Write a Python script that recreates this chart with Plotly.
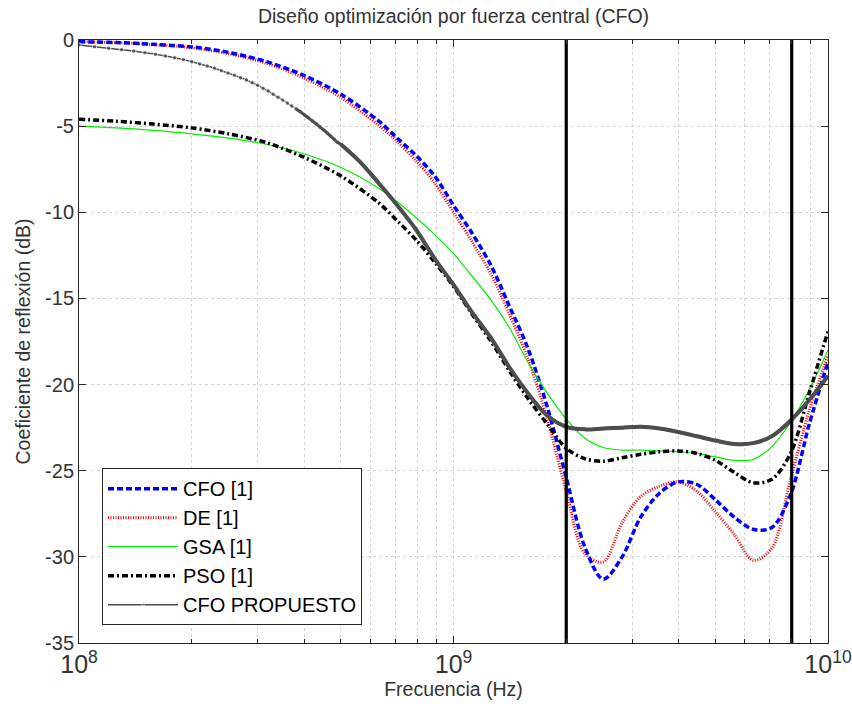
import plotly.graph_objects as go

# ---------------- data ----------------
freq = [1.00e8, 1.26e8, 1.58e8, 2.00e8, 2.51e8, 3.16e8, 3.98e8, 5.01e8, 6.31e8,
        7.08e8, 7.94e8, 8.91e8, 1.00e9, 1.12e9, 1.26e9, 1.41e9, 1.58e9, 1.78e9,
        2.00e9, 2.24e9, 2.51e9, 2.82e9, 3.16e9, 3.55e9, 3.98e9, 4.47e9, 5.01e9,
        5.62e9, 6.31e9, 7.08e9, 7.94e9, 8.91e9, 1.00e10]

cfo_ref = [-0.10, -0.15, -0.25, -0.40, -0.72, -1.25, -2.05, -3.15, -4.7,
           -5.7, -6.7, -7.9, -9.6, -11.2, -13.1, -15.45, -17.9, -21.3,
           -25.4, -29.4, -31.3, -30.0, -27.7, -26.3, -25.65, -25.8, -26.7,
           -27.7, -28.4, -28.3, -26.4, -22.3, -18.7]

de_ref = [-0.10, -0.15, -0.27, -0.45, -0.80, -1.35, -2.2, -3.35, -4.95,
          -5.9, -7.0, -8.3, -10.0, -11.7, -13.6, -15.9, -18.5, -22.0,
          -26.2, -29.8, -30.3, -28.0, -26.5, -25.9, -25.65, -26.2, -27.4,
          -28.7, -30.2, -29.5, -25.5, -21.5, -18.3]

gsa_ref = [-5.0, -5.1, -5.25, -5.45, -5.7, -6.05, -6.6, -7.4, -8.6,
           -9.4, -10.3, -11.3, -12.4, -13.7, -15.1, -16.7, -18.7, -20.5,
           -22.0, -23.1, -23.65, -23.8, -23.8, -23.85, -23.9, -24.0, -24.2,
           -24.4, -24.35, -23.6, -22.2, -20.3, -18.0]

pso_ref = [-4.6, -4.72, -4.88, -5.1, -5.45, -5.95, -6.8, -7.9, -9.45,
           -10.5, -11.6, -12.9, -14.3, -15.9, -17.5, -19.2, -20.8, -22.3,
           -23.7, -24.3, -24.45, -24.25, -24.05, -23.9, -23.85, -24.0, -24.4,
           -25.1, -25.7, -25.5, -24.0, -20.5, -16.9]

# proposed CFO: dense readings (10 MHz markers) on the left, sparser afterwards
freq_prop = [1.0e8, 1.1e8, 1.2e8, 1.3e8, 1.4e8, 1.5e8, 1.6e8, 1.7e8, 1.8e8, 1.9e8,
             2.0e8, 2.1e8, 2.2e8, 2.3e8, 2.4e8, 2.5e8, 2.6e8, 2.7e8, 2.8e8, 2.9e8,
             3.0e8, 3.1e8, 3.2e8, 3.3e8, 3.4e8, 3.5e8, 3.6e8, 3.7e8, 3.8e8, 3.9e8,
             4.0e8, 4.1e8, 4.2e8, 4.3e8, 4.4e8, 4.5e8, 4.6e8, 4.7e8, 4.8e8, 4.9e8,
             5.0e8, 5.62e8, 6.31e8, 7.08e8, 7.94e8, 8.91e8, 1.00e9, 1.12e9, 1.26e9,
             1.41e9, 1.58e9, 1.78e9, 2.00e9, 2.24e9, 2.51e9, 2.82e9, 3.16e9, 3.55e9,
             3.98e9, 4.47e9, 5.01e9, 5.62e9, 6.31e9, 7.08e9, 7.94e9, 8.91e9, 1.00e10]
cfo_prop = [-0.29, -0.39, -0.48, -0.56, -0.64, -0.74, -0.83, -0.93, -1.03, -1.14,
            -1.26, -1.39, -1.51, -1.64, -1.78, -1.92, -2.05, -2.19, -2.32, -2.48,
            -2.63, -2.80, -2.96, -3.15, -3.32, -3.49, -3.66, -3.83, -4.00, -4.17,
            -4.35, -4.52, -4.70, -4.87, -5.05, -5.22, -5.40, -5.58, -5.76, -5.94,
            -6.05, -7.06, -8.3, -9.6, -11.0, -12.7, -14.2, -15.8, -17.3,
            -19.0, -20.5, -21.8, -22.45, -22.6, -22.55, -22.5, -22.45, -22.55,
            -22.75, -23.0, -23.25, -23.45, -23.4, -23.0, -22.1, -20.9, -19.5]

band_edges = [2e9, 8e9]
y_ticks = [-35, -30, -25, -20, -15, -10, -5, 0]
y_ticktext = ["-35", "-30", "-25", "-20", "-15", "-10", "-5", "0"]

# ---------------- figure ----------------
AX = "#262626"
GRID = "#d4d4d4"
TXT = "#333333"
GRAY = "#4d4d4d"
FONT = "Arial, Liberation Sans, sans-serif"

fig = go.Figure()

fig.add_trace(go.Scatter(x=freq, y=de_ref, name="DE [1]", mode="lines",
                         line=dict(color="#ff0000", width=3, dash="1px,1.5px",
                                   shape="spline", smoothing=0.9),
                         legendrank=2))
fig.add_trace(go.Scatter(x=freq, y=cfo_ref, name="CFO [1]", mode="lines",
                         line=dict(color="#0000ff", width=3.5, dash="6px,3px",
                                   shape="spline", smoothing=0.9),
                         legendrank=1))
fig.add_trace(go.Scatter(x=freq, y=gsa_ref, name="GSA [1]", mode="lines",
                         line=dict(color="#00ee00", width=1.2,
                                   shape="spline", smoothing=0.9),
                         legendrank=3))
fig.add_trace(go.Scatter(x=freq, y=pso_ref, name="PSO [1]", mode="lines",
                         line=dict(color="#000000", width=3.5, dash="6px,3px,2px,3px",
                                   shape="spline", smoothing=0.9),
                         legendrank=4))

marker_sizes = [4.5 if f <= 5.0e8 else 0 for f in freq_prop]
fig.add_trace(go.Scatter(x=freq_prop, y=cfo_prop, name="CFO PROPUESTO",
                         mode="lines+markers",
                         line=dict(color=GRAY, width=1.5, shape="spline", smoothing=0.9),
                         marker=dict(color=GRAY, size=marker_sizes, symbol="circle"),
                         legendrank=5))
# merged markers make the curve look thicker where the samples get dense
k1 = freq_prop.index(3.8e8)
fig.add_trace(go.Scatter(x=freq_prop[k1:], y=cfo_prop[k1:], mode="lines",
                         showlegend=False, hoverinfo="skip",
                         line=dict(color=GRAY, width=3, shape="spline", smoothing=0.9)))
k2 = freq_prop.index(5.0e8)
fig.add_trace(go.Scatter(x=freq_prop[k2:], y=cfo_prop[k2:], mode="lines",
                         showlegend=False, hoverinfo="skip",
                         line=dict(color=GRAY, width=4, shape="spline", smoothing=0.9)))

for f in band_edges:
    fig.add_trace(go.Scatter(x=[f, f], y=[0, -35], mode="lines", showlegend=False,
                             line=dict(color="#000000", width=3.2)))

fig.update_layout(
    width=852, height=711,
    margin=dict(l=79, r=24, t=40, b=68),
    paper_bgcolor="white", plot_bgcolor="white",
    font=dict(family=FONT, color=AX, size=20),
    title=dict(text="Diseño optimización por fuerza central (CFO)",
               x=0.5, xref="paper", xanchor="center",
               y=0.987, yref="container", yanchor="top",
               font=dict(size=19.5, color=TXT)),
    showlegend=True,
    legend=dict(x=0.0307, y=0.29, xanchor="left", yanchor="top",
                bgcolor="white", bordercolor=AX, borderwidth=1,
                font=dict(size=20, color="#000000"), itemwidth=70,
                traceorder="normal"),
    annotations=[dict(text="Coeficiente de reflexión (dB)", textangle=-90,
                      xref="paper", yref="paper", x=-0.0761, y=0.5,
                      xanchor="center", yanchor="middle", showarrow=False,
                      font=dict(size=19.5, color=TXT))],
)

fig.update_xaxes(
    type="log", range=[8, 10], dtick=1, tick0=0, exponentformat="power",
    automargin=False,
    showline=True, linecolor=AX, linewidth=1, mirror="ticks",
    ticks="inside", ticklen=7, tickcolor=AX,
    showgrid=True, gridcolor=GRID, griddash="dot", gridwidth=1,
    zeroline=False,
    tickfont=dict(size=20, color=TXT),
    minor=dict(dtick="D1", ticks="inside", ticklen=4, tickcolor=AX,
               showgrid=True, gridcolor=GRID, griddash="dot", gridwidth=1),
    title=dict(text="Frecuencia (Hz)", font=dict(size=19.5, color=TXT), standoff=2),
)
fig.update_yaxes(
    range=[-35, 0], tickmode="array", tickvals=y_ticks, ticktext=y_ticktext,
    automargin=False,
    showline=True, linecolor=AX, linewidth=1, mirror="ticks",
    ticks="inside", ticklen=7, tickcolor=AX,
    showgrid=True, gridcolor=GRID, griddash="dot", gridwidth=1,
    zeroline=False,
    tickfont=dict(size=20, color=TXT),
)

fig.write_html("out.html", config={"displayModeBar": False},
               post_script="document.body.style.margin='0px';document.body.style.padding='0px';")
